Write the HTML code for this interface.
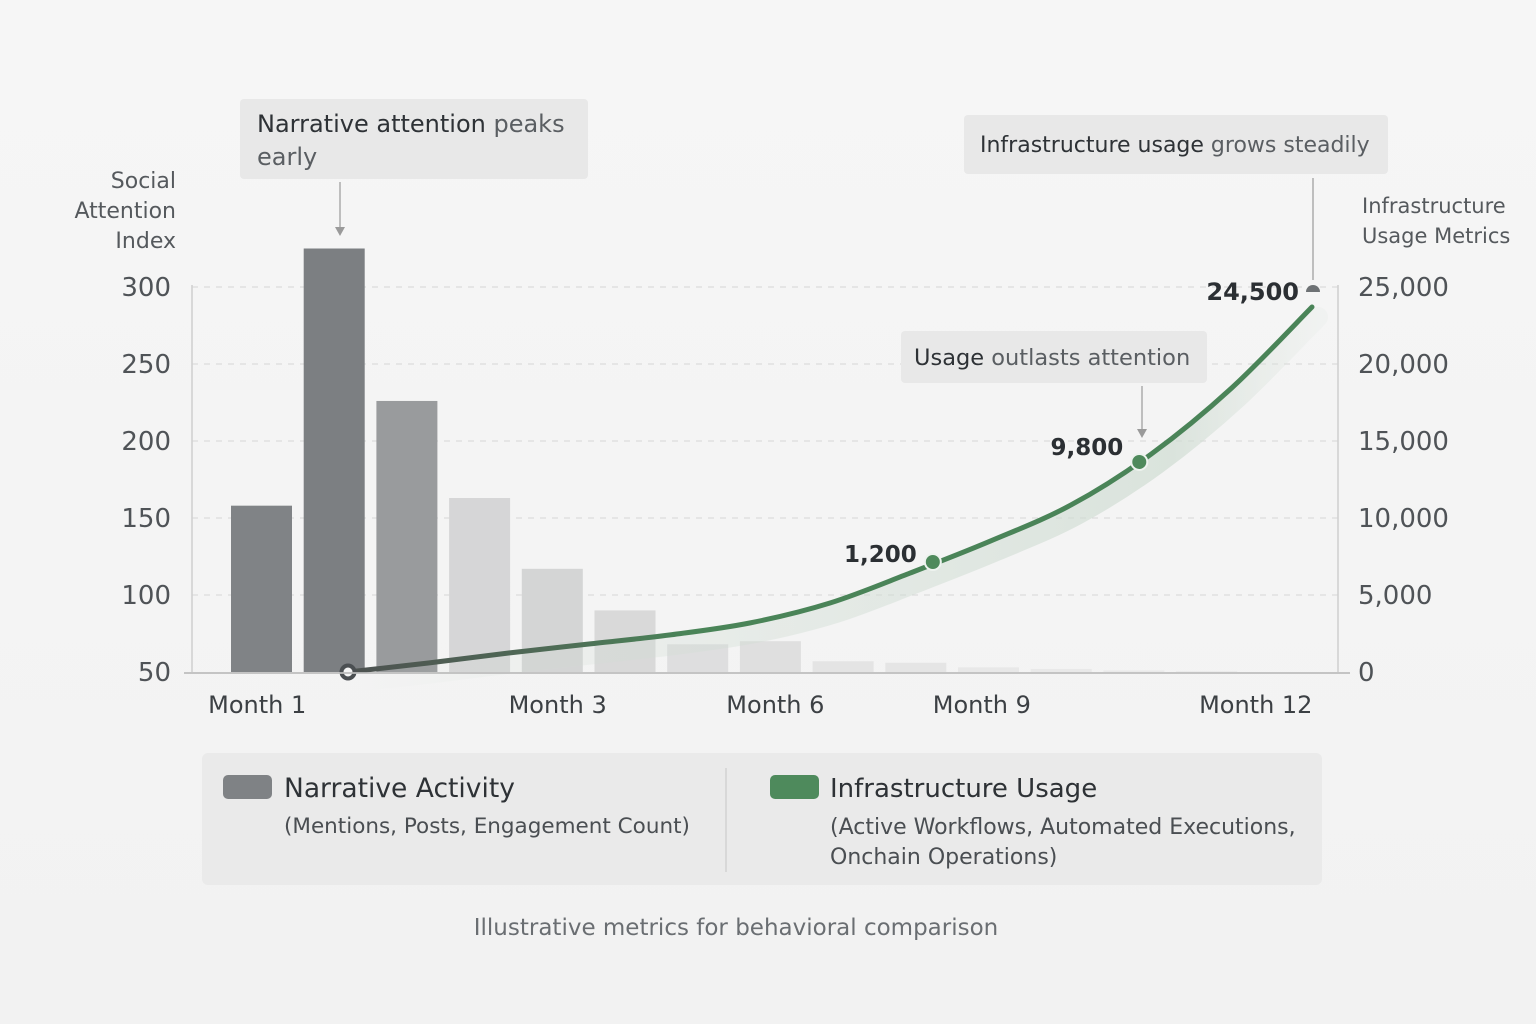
<!DOCTYPE html>
<html><head><meta charset="utf-8">
<style>
html,body{margin:0;padding:0;background:#f4f4f4;}
body{width:1536px;height:1024px;overflow:hidden;position:relative;font-family:"DejaVu Sans","Liberation Sans",sans-serif;}
svg{position:absolute;left:0;top:0;}
</style></head>
<body>
<svg id="chart" width="1536" height="1024" viewBox="0 0 1536 1024" xmlns="http://www.w3.org/2000/svg">
<defs>
<linearGradient id="bg" x1="0" y1="0" x2="0" y2="1"><stop offset="0" stop-color="#f6f6f6"/><stop offset="1" stop-color="#f2f2f2"/></linearGradient>
<linearGradient id="lineGrad" gradientUnits="userSpaceOnUse" x1="348" y1="0" x2="1312" y2="0">
  <stop offset="0" stop-color="#4d5150"/><stop offset="0.2" stop-color="#4f6a56"/><stop offset="0.35" stop-color="#4a8458"/><stop offset="1" stop-color="#4a8458"/>
</linearGradient>
<linearGradient id="shadeGrad" gradientUnits="userSpaceOnUse" x1="348" y1="0" x2="1312" y2="0">
  <stop offset="0" stop-color="#cfdcd2" stop-opacity="0"/><stop offset="0.4" stop-color="#cfdcd2" stop-opacity="0.35"/><stop offset="0.85" stop-color="#cfdcd2" stop-opacity="0.7"/><stop offset="1" stop-color="#dfe6e0" stop-opacity="0.2"/>
</linearGradient>
</defs>
<rect x="0" y="0" width="1536" height="1024" fill="url(#bg)"/>
<g id="grid"></g>
<g id="bars"></g>
<g id="line"></g>
<g id="axes"></g>
<g id="annot">
  <rect x="240" y="99" width="348" height="80" rx="4" fill="#e8e8e8"/>
  <text x="257" y="132" font-size="24" fill="#2e3236">Narrative attention <tspan fill="#5a5e62">peaks</tspan></text>
  <text x="257" y="165" font-size="24" fill="#5a5e62">early</text>
  <line x1="340" y1="182" x2="340" y2="228" stroke="#9a9a9a" stroke-width="1.2"/>
  <polygon points="335,227 345,227 340,236" fill="#9a9a9a"/>

  <rect x="964" y="115" width="424" height="59" rx="4" fill="#e8e8e8"/>
  <text x="980" y="152" font-size="22" fill="#2e3236">Infrastructure usage <tspan fill="#5a5e62">grows steadily</tspan></text>
  <line x1="1313" y1="178" x2="1313" y2="280" stroke="#9a9a9a" stroke-width="1.2"/>

  <rect x="901" y="331" width="306" height="52" rx="4" fill="#e8e8e8"/>
  <text x="914" y="365" font-size="22.5" fill="#2e3236">Usage <tspan fill="#5a5e62">outlasts attention</tspan></text>
  <line x1="1142" y1="386" x2="1142" y2="430" stroke="#9a9a9a" stroke-width="1.2"/>
  <polygon points="1137,429 1147,429 1142,438" fill="#9a9a9a"/>
</g>
<g id="titles">
  <text x="176" y="188" font-size="22" fill="#55595d" text-anchor="end">Social</text>
  <text x="176" y="218" font-size="22" fill="#55595d" text-anchor="end">Attention</text>
  <text x="176" y="248" font-size="22" fill="#55595d" text-anchor="end">Index</text>
  <text x="1362" y="213" font-size="21" fill="#55595d">Infrastructure</text>
  <text x="1362" y="243" font-size="21" fill="#55595d">Usage Metrics</text>
</g>
<g id="legend">
  <rect x="202" y="753" width="1120" height="132" rx="6" fill="#eaeaea"/>
  <line x1="726" y1="768" x2="726" y2="872" stroke="#d2d2d2" stroke-width="1.5"/>
  <rect x="223" y="775" width="49" height="24" rx="5" fill="#7f8285"/>
  <text x="284" y="797" font-size="26.5" fill="#2e3236">Narrative Activity</text>
  <text x="284" y="833" font-size="21.5" fill="#4a4e52">(Mentions, Posts, Engagement Count)</text>
  <rect x="770" y="775" width="49" height="24" rx="5" fill="#4e8a5c"/>
  <text x="830" y="797" font-size="26" fill="#2e3236">Infrastructure Usage</text>
  <text x="830" y="834" font-size="22" fill="#4a4e52">(Active Workflows, Automated Executions,</text>
  <text x="830" y="864" font-size="22" fill="#4a4e52">Onchain Operations)</text>
</g>
<text x="736" y="935" font-size="23" fill="#6a6e72" text-anchor="middle">Illustrative metrics for behavioral comparison</text>
</svg>
<script>
const barValues = [158, 325, 226, 163, 117, 90, 68, 70, 57, 56, 53, 52, 51, 50.6];
const barColors = ["#808386", "#7c7f82", "#999b9d", "#d6d6d7", "#d4d5d5", "#d9d9d9", "#dededf", "#dfdfdf", "#e4e4e4", "#e5e5e5", "#e8e8e8", "#e9e9e9", "#eaeaea", "#ebebeb"];
const leftTicks = [50, 100, 150, 200, 250, 300];
const rightTicks = [0, 5000, 10000, 15000, 20000, 25000];
const rightTickLabels = ["0", "5,000", "10,000", "15,000", "20,000", "25,000"];
const monthLabels = ["Month 1", "Month 3", "Month 6", "Month 9", "Month 12"];
const monthLabelPos = [-1.13, 2.61, 5.32, 7.89, 11.3];
const lineT = [0, 1, 2, 3, 4, 5, 6, 7, 8, 9, 10, 11, 12];
const lineValues = [0, 584, 1234, 1818, 2403, 3182, 4480, 6430, 8508, 10845, 14157, 18443, 23700];
const markerT = [0, 7.28, 9.85];
const markerValues = [0, 7143, 13640];
const markerLabels = ["", "1,200", "9,800"];

const NS = "http://www.w3.org/2000/svg";
function mk(tag, attrs, parent){const e=document.createElementNS(NS,tag);for(const k in attrs)e.setAttribute(k,attrs[k]);parent.appendChild(e);return e;}
const yL = v => 672 - (v - 50) * 1.54;
const yR = v => 672 - v * (385 / 25000);
const xT = t => 348 + t * (1312 - 348) / 12;
const barX = i => 231 + i * 72.7;
const barW = 61;

const grid = document.getElementById('grid');
leftTicks.forEach((v,i)=>{
  if(v===50) return;
  const l = mk('line',{x1:192,x2:1338,y1:yL(v),y2:yL(v),stroke:'#dcdcdc','stroke-width':1.2,'stroke-dasharray':'6 6'},grid);
  
  
});

const bars = document.getElementById('bars');
barValues.forEach((v,i)=>{
  const r = mk('rect',{x:barX(i),y:yL(v),width:barW,height:672-yL(v),fill:barColors[i]},bars);
  
  
});

const axes = document.getElementById('axes');
let a = mk('line',{x1:192,x2:192,y1:285,y2:672,stroke:'#cfcfcf','stroke-width':1.5},axes);


a = mk('line',{x1:1338,x2:1338,y1:285,y2:672,stroke:'#cfcfcf','stroke-width':1.5},axes);


a = mk('line',{x1:184,x2:1350,y1:673,y2:673,stroke:'#bdbdbd','stroke-width':1.8},axes);


leftTicks.forEach(v=>{
  const t = mk('text',{x:171,y:yL(v)+9,'font-size':26,fill:'#4f5357','text-anchor':'end'},axes);
  t.textContent = v;
  
  
});
rightTicks.forEach((v,i)=>{
  const t = mk('text',{x:1358,y:yR(v)+9,'font-size':26,fill:'#4f5357'},axes);
  t.textContent = rightTickLabels[i];
  
  
});
monthLabels.forEach((m,i)=>{
  const t = mk('text',{x:xT(monthLabelPos[i]),y:713,'font-size':24,fill:'#3c4044','text-anchor':'middle'},axes);
  t.textContent = m;
  
  
});

// line
const pts = lineT.map((t,i)=>[xT(t), yR(lineValues[i])]);
function smooth(p){let d='M'+p[0][0]+','+p[0][1];for(let i=0;i<p.length-1;i++){const p0=p[i-1]||p[i],p1=p[i],p2=p[i+1],p3=p[i+2]||p2;const c1=[p1[0]+(p2[0]-p0[0])/6,p1[1]+(p2[1]-p0[1])/6];const c2=[p2[0]-(p3[0]-p1[0])/6,p2[1]-(p3[1]-p1[1])/6];d+=' C'+c1+' '+c2+' '+p2;}return d;}
const lg = document.getElementById('line');
const d = smooth(pts);
let s = mk('path',{d:d,fill:'none',stroke:'url(#shadeGrad)','stroke-width':20,'stroke-linecap':'round',transform:'translate(6,10)'},lg);


s = mk('path',{d:d,fill:'none',stroke:'url(#lineGrad)','stroke-width':5,'stroke-linecap':'round'},lg);


markerT.forEach((t,i)=>{
  const cx=xT(t), cy=yR(markerValues[i]);
  const c = mk('circle',{cx:cx,cy:cy,r:i===0?6.5:8,fill:i===0?'#f4f4f4':'#4f8a5c',stroke:i===0?'#4b4f52':'#eef3ef','stroke-width':i===0?4:2},lg);
  
  
  if(markerLabels[i]){
    const tx = mk('text',{x:cx-16,y:cy-(i===1?0:7),'font-size':23,fill:'#2b2f33','text-anchor':'end','font-weight':'bold'},lg);
    tx.textContent = markerLabels[i];
    
    
  }
});
const endCap = mk('path',{d:'M1306,292 A7,7 0 0 1 1320,292 Z',fill:'#6e7275'},lg);


const endLbl = mk('text',{x:1299,y:300,'font-size':24,fill:'#2b2f33','text-anchor':'end','font-weight':'bold'},lg);
endLbl.textContent = '24,500';


</script>
</body></html>
